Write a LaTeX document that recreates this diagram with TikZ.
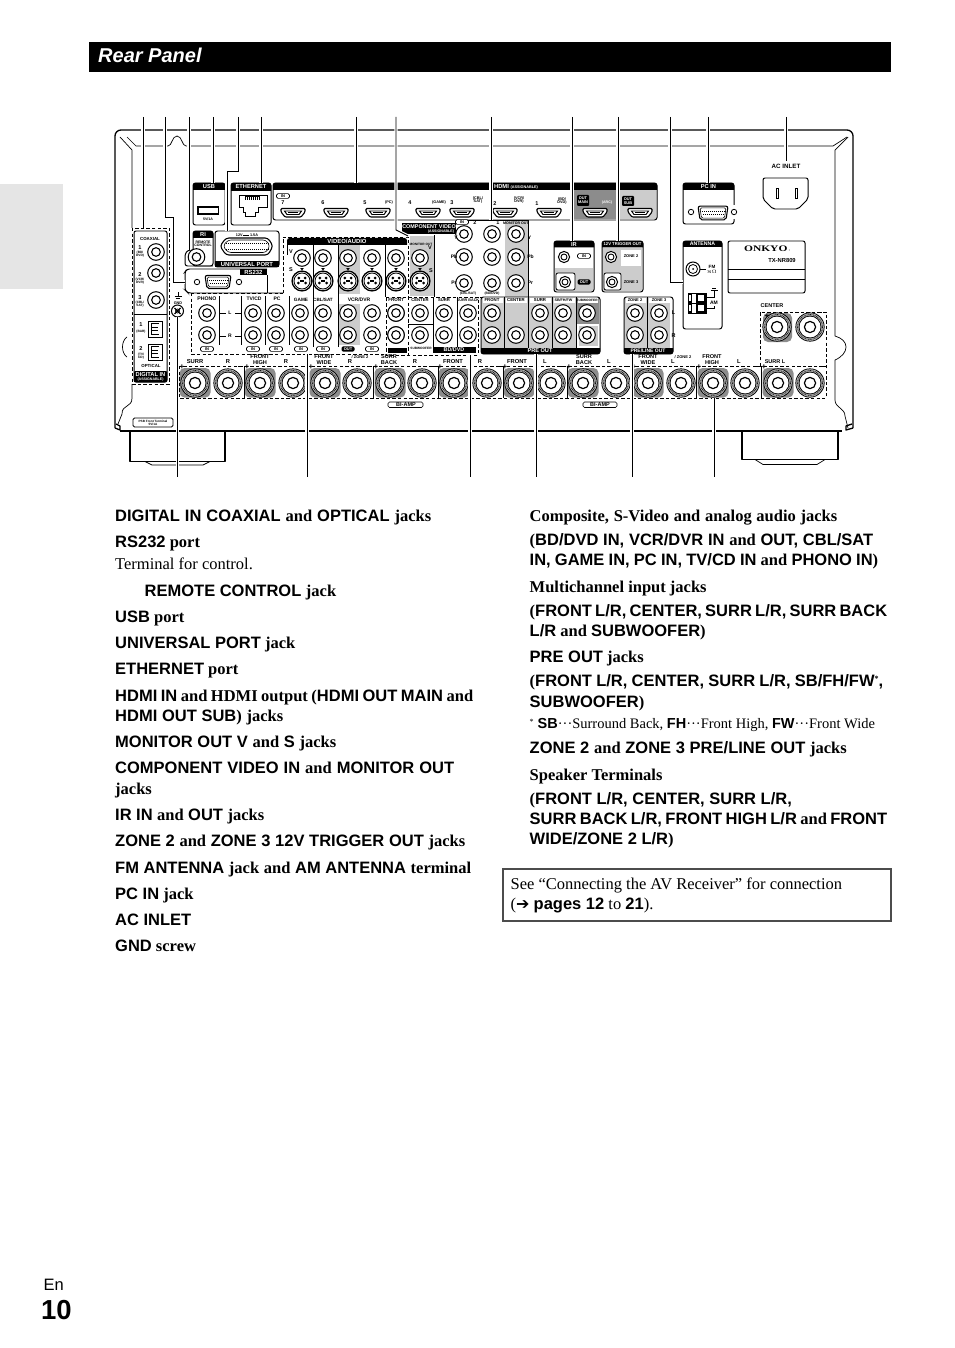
\documentclass[tikz,border=0pt]{standalone}
\usepackage{fontspec}
\setmainfont{Liberation Serif}
\setsansfont{Liberation Sans}
\newfontfamily\symfont{DejaVu Sans}
\newcounter{nc}
\definecolor{pg}{gray}{0.80}
\definecolor{dg}{gray}{0.55}
\tikzset{
  pix/.style={x=1bp,y=-1bp},
  panelline/.style={line width=1pt,rounded corners=2.5},
  chassis/.style={line width=1.3pt,line join=round},
  thin chassis/.style={line width=.7pt,line join=round},
  dashbox/.style={line width=.9pt,dash pattern=on 3.4pt off 2.2pt},
  body/.style={anchor=base west,inner sep=0pt,font=\fontsize{16.5bp}{20bp}\selectfont\bfseries},
  leaderline/.style={line width=.9pt},
  leaderhalo/.style={line width=3.2pt,white},
}
\newcommand\St[1]{{\sffamily\bfseries #1}}
% small panel text: [colour]{size}{x,y}{text}
\newcommand\mt[4][black]{\stepcounter{nc}\node[inner sep=0pt,text=#1,align=center,font=\sffamily\bfseries\fontsize{#2bp}{#2bp}\selectfont] (m\arabic{nc}) at (#3) {#4};}
% body line: {x}{baseline}{text}
\newcommand\bl[3]{\stepcounter{nc}\node[body] (b\arabic{nc}) at (#1,#2) {#3};}
% body line set to a given width: {x}{baseline}{width}{text}
\newcommand\bw[4]{\stepcounter{nc}\node[body] (b\arabic{nc}) at (#1,#2) {\spaceskip=4bp plus 30bp minus 4bp\relax\xspaceskip=\spaceskip\hbox to #3bp{#4}};}
% RCA jack
\newcommand\jack[2]{\draw[line width=1pt,fill=white] (#1,#2) circle (8.3);\draw[line width=1.1pt] (#1,#2) circle (4.3);}
% S-video jack
\newcommand\svid[2]{\draw[line width=1.3pt,fill=white] (#1,#2) circle (9.9);\draw[line width=.8pt] (#1,#2) circle (8);
  \fill[black] (#1-3.2,#2-3) circle (1.5) (#1+3.2,#2-3) circle (1.5) (#1-3.6,#2+2) circle (1.5) (#1+3.6,#2+2) circle (1.5);
  \fill[black] (#1-2,#2-1.2) rectangle (#1+2,#2+1.2);
  \fill[black] (#1-1.8,#2-13) -- (#1+1.8,#2-13) -- (#1,#2-10.5) -- cycle;}
% speaker terminal
\newcommand\spk[2]{\fill[black] (#1,#2) circle (14.6);\fill[gray!60] (#1,#2) circle (13.8);
  \draw[line width=.7pt,dash pattern=on .8pt off .8pt] (#1,#2) circle (12.6);
  \fill[black] (#1,#2) circle (11.4);\fill[white] (#1,#2) circle (10.5);\draw[line width=1.2pt] (#1,#2) circle (5.6);}
% panel with black header
\newcommand\panel[6]{\fill[white,rounded corners=2.5] (#1,#2) rectangle (#3,#4);
  \fill[black] (#1,#2+#5) [rounded corners=2.5] -- (#1,#2) -- (#3,#2) [sharp corners] -- (#3,#2+#5) -- cycle;
  \draw[panelline] (#1,#2) rectangle (#3,#4);
  \mt[white]{5.7}{{(#1+#3)/2},{#2+#5/2}}{#6}}
% HDMI socket
\newcommand\hdmi[2]{\draw[line width=1.1pt,fill=white,rounded corners=1] (#1-12,#2-3.5) -- (#1+12,#2-3.5) -- (#1+12,#2) -- (#1+8,#2+5) -- (#1-8,#2+5) -- (#1-12,#2) -- cycle;
  \draw[line width=1pt] (#1-8.5,#2-1) -- (#1+8.5,#2-1) -- (#1+6,#2+2.5) -- (#1-6,#2+2.5) -- cycle;
  \fill (#1-5,#2) rectangle (#1+5,#2+.8);}
% D-sub
\newcommand\dsub[4]{\draw[line width=1.1pt,rounded corners=2] (#1-#3,#2-#4) -- (#1+#3,#2-#4) -- (#1+#3-2,#2+#4) -- (#1-#3+2,#2+#4) -- cycle;
  \draw[line width=.6pt,rounded corners=1.5] (#1-#3+2,#2-#4+1.6) -- (#1+#3-2,#2-#4+1.6) -- (#1+#3-3.5,#2+#4-1.6) -- (#1-#3+3.5,#2+#4-1.6) -- cycle;
  \draw[line width=1pt,dash pattern=on .9pt off 1.1pt] (#1-#3+4,#2-1.6) -- (#1+#3-4,#2-1.6) (#1-#3+5,#2+1.6) -- (#1+#3-5,#2+1.6);}
% pill label
\newcommand\pill[3]{\draw[line width=.6pt,rounded corners=1.5,fill=white] (#1-6.5,#2-2.4) rectangle (#1+6.5,#2+2.4);\mt{4}{#1,#2}{#3}}
\newcommand\dpill[3]{\fill[black,rounded corners=1.5] (#1-6.5,#2-2.6) rectangle (#1+6.5,#2+2.6);\mt[white]{4}{#1,#2}{#3}}
% leader lines
\newcommand\lead[1]{\draw[leaderhalo] #1;\draw[leaderline] #1;}
\begin{document}
\begin{tikzpicture}[pix]
\useasboundingbox (0,0) rectangle (954,1348);
\fill[white] (0,0) rectangle (954,1348);
% page furniture
\fill[gray!20] (0,184) rectangle (63,289);
\fill[black] (89,42) rectangle (891,72);
\node[anchor=base west,inner sep=0pt,text=white,font=\sffamily\bfseries\itshape\fontsize{20bp}{20bp}\selectfont] (title) at (98,62.5) {Rear Panel};

% ---------- chassis
\draw[chassis,rounded corners=6] (115,428) -- (115,130) -- (853,130) -- (853,428);
\draw[chassis] (115,428) -- (120,430) -- (120,426) -- (116,424);
\draw[chassis] (853,428) -- (846,430) -- (846,426) -- (852,424);
\draw[chassis] (120,431) -- (842,431);
\draw[thin chassis] (120,137) -- (132,150) -- (132,228);
\draw[thin chassis] (127,137) -- (136,146) -- (168,146) .. controls (172,146) and (172,136) .. (177,136) .. controls (182,136) and (182,146) .. (186,146) -- (833,146) -- (847,137);
\draw[thin chassis] (848,137) -- (835,150) -- (835,336) .. controls (842,338) and (846,342) .. (846,347) .. controls (846,352) and (842,357) .. (835,360) -- (835,400) .. controls (835,408) and (845,408) .. (845,416) -- (848,428);
\draw[thin chassis] (132,384) -- (132,398) .. controls (132,408) and (122,404) .. (122,414) -- (118,424);
\draw[thin chassis] (127,337) .. controls (121,341) and (121,353) .. (127,357);
% feet
\draw[chassis] (130,431) -- (130,461.5) -- (225,461.5) -- (225,431);
\draw[thin chassis] (145,461.5) -- (152,465) -- (203,465) -- (210,461.5);
\draw[chassis] (742,431) -- (742,459.5) -- (838,459.5) -- (838,431);
\draw[thin chassis] (755,459.5) -- (763,464.5) -- (817,464.5) -- (825,459.5);

% ---------- HDMI panel
\fill[white,rounded corners=2.5] (273,183) rectangle (657,220);
\fill[dg] (573,190) rectangle (617,219);
\fill[pg] (618,190) rectangle (656,219);
\fill[black] (273,190) [rounded corners=2.5] -- (273,183) -- (657,183) [sharp corners] -- (657,190) -- cycle;
\draw[panelline] (273,183) rectangle (657,220);
\mt[white]{5.8}{516,186.5}{HDMI {\fontsize{3.8bp}{4bp}\selectfont (ASSIGNABLE)}}
\foreach \x in {293,336,378,428,462,505,549,595,640}{\hdmi{\x}{212}}
\pill{283}{196}{IN}
\mt{5.5}{283,203}{7}\mt{5.5}{323,203}{6}\mt{5.5}{365,203}{5}\mt{3.8}{389,203}{(PC)}
\mt{5.5}{410,203}{4}\mt{3.8}{439,203}{(GAME)}\mt{5.5}{452,203}{3}\mt{3.8}{478,200}{(CBL/\\SAT)}
\mt{5.5}{495,204}{2}\mt{3.8}{519,200}{(VCR/\\DVR)}\mt{5.5}{537,204}{1}\mt{3.8}{562,201}{(BD/\\DVD)}
\fill[black,rounded corners=1] (577,195) rectangle (589,206);\mt[white]{3.9}{583,200.5}{OUT\\MAIN}
\mt[white]{3.6}{607,203}{(ARC)}
\fill[black,rounded corners=1] (622,196) rectangle (634,206);\mt[white]{3.9}{628,201}{OUT\\SUB}

% ---------- USB / Ethernet
\panel{193}{183}{225}{225}{7}{USB}
\fill[black] (197,206) rectangle (219,215);\fill[white] (198.5,208.5) rectangle (217.5,213.5);
\mt{3.6}{208,219.5}{5V/1A}
\panel{231}{183}{271}{225}{8}{ETHERNET}
\draw[line width=1pt] (239,195) -- (267,195) -- (267,207) -- (258,207) -- (258,212) -- (255,212) -- (255,216) -- (245,216) -- (245,212) -- (243,212) -- (243,207) -- (239,207) -- cycle;
\fill[black] (245,196.5) rectangle (260,200);
\foreach \x in {246,248,...,258}{\fill[white] (\x,197) rectangle (\x+.8,200);}
% ---------- RI
\fill[white] (185,250) rectangle (213,266);
\panel{193}{231}{213}{266}{7}{RI}
\draw[panelline] (193,250) -- (188,250) -- (185,254) -- (185,266) -- (213,266);
\mt{3.5}{203,244}{REMOTE\\CONTROL}
\jack{196.5}{257}
% ---------- Universal port
\fill[white,rounded corners=2.5] (215,231) rectangle (279,267);
\draw[panelline] (215,231) rectangle (279,267);
\fill[black] (215,261) rectangle (279,267);
\mt[white]{5.9}{247,264}{UNIVERSAL PORT}
\mt{3.8}{247,235}{12V\,{\rule[.6bp]{6bp}{.7bp}}\,1.5A}
\draw[line width=1.1pt,rounded corners=3] (220,246) -- (226,238) -- (268,238) -- (273,246) -- (268,255) -- (226,255) -- cycle;
\draw[line width=1pt,dash pattern=on .9pt off 1.1pt] (226,243) -- (268,243) (226,249) -- (268,249);
\draw[line width=.6pt,rounded corners=3] (223,246) -- (228,240) -- (266,240) -- (270,246) -- (266,252.5) -- (228,252.5) -- cycle;
% ---------- RS232
\draw[panelline] (267,269) -- (187,269) -- (185,272) -- (185,290) -- (188,293) -- (283,293);
\draw[line width=1pt] (267,275) -- (267,293);
\fill[black] (240,269) rectangle (267,275);
\mt[white]{5.9}{253.5,272}{RS232}
\dsub{218}{282}{13}{6.5}
\draw[line width=.8pt,fill=white] (197,282) circle (2.7) (239,282) circle (2.7);

% ---------- Digital in
\draw[dashbox] (132,228) rectangle (169,384);
\draw[line width=1pt,rounded corners=2] (134,231) rectangle (167,382);
\draw[line width=1pt] (134,314) -- (167,314);
\fill[black,rounded corners=1] (134,371) rectangle (167,382);
\mt{4.4}{150,239}{COAXIAL}
\mt[white]{5.7}{150.5,374.5}{DIGITAL IN}\mt[white]{3.6}{150.5,379.3}{(ASSIGNABLE)}
\jack{156}{252}\jack{156}{273}\jack{156}{300}
\mt{5.6}{140,248}{1}\mt{3.2}{140,254.5}{(BD/\\DVD)}
\mt{5.6}{140,275}{2}\mt{3.2}{140,281.5}{(VCR/\\DVR)}
\mt{5.6}{140,298}{3}\mt{3.2}{140,304.5}{(CBL/\\SAT)}
\mt{5.6}{141,325}{1}\mt{3.2}{141,332}{(BAR)}
\mt{5.6}{141,349}{2}\mt{3.2}{141,356}{(TV/\\CD)}
\mt{4.4}{151,366}{OPTICAL}
\foreach \y in {321,344}{
  \draw[line width=1pt] (148,\y) rectangle (162,\y+16);
  \draw[line width=.8pt] (159,\y+2.5) -- (151,\y+2.5) -- (151,\y+13) -- (159,\y+13) (151,\y+6) -- (158,\y+6) (151,\y+9.5) -- (158,\y+9.5);}
% ---------- GND
\draw[line width=.6pt] (178,292) -- (178,296.5) (174.5,296.5) -- (181.5,296.5) (175.7,297.8) -- (180.3,297.8);
\mt{3.8}{178,303}{GND}
\draw[line width=1pt] (177.5,311) circle (6);
\draw[line width=1.2pt] (174.5,308) -- (180.5,314) (174.5,314) -- (180.5,308);
\draw[line width=.7pt] (177.5,311) circle (2);

% ---------- Component video / monitor out
\fill[pg] (505,220) rectangle (528,297);
\draw[line width=1pt] (456,220) -- (528,220) -- (528,297) -- (480,297);
\fill[black] (402,223) rectangle (456,234);
\mt[white]{5.4}{429,226.5}{COMPONENT VIDEO}\mt[white]{3.6}{441,231.5}{(ASSIGNABLE)}
\foreach \x in {464,492,516}{\foreach \y in {234,257,283}{\jack{\x}{\y}}}
\pill{462}{222}{IN}\mt{5.5}{475,223}{2}\mt{5.5}{498,223}{1}
\mt{3.6}{516,223}{MONITOR OUT}
\mt{5}{456,238}{Y}\mt{5}{454,257}{Pb}\mt{5}{454,283}{Pr}
\mt{5}{529.5,238}{Y}\mt{5}{530.5,257}{Pb}\mt{5}{530.5,283}{Pr}
\mt{3.3}{468,294}{(CBL/SAT)}\mt{3.3}{492,294}{(BD/DVD)}
% monitor out box
\fill[pg] (410,236) rectangle (434,296);
\draw[line width=1pt] (434,235) -- (434,297);
\mt{3.2}{421,244}{MONITOR OUT}
\jack{420}{258}\svid{420}{281}
\mt{5.5}{430,248}{V}\mt{5.5}{431,271}{S}

% ---------- Video / audio
\fill[pg] (338,245) rectangle (360,345);
\fill[white] (338,294) rectangle (360,304);
\fill[black] (287,245) [rounded corners=2.5] -- (287,238) -- (407,238) [sharp corners] -- (407,245) -- cycle;
\mt[white]{5.9}{347,241.5}{VIDEO/AUDIO}
\draw[line width=1pt] (287,245) -- (287,255) (313,245) -- (313,347) (338,245) -- (338,347) (385,245) -- (385,297);
\foreach \x in {302,323,348,372,396}{\jack{\x}{258}\svid{\x}{281}}
\mt{5.5}{291,252}{V}\mt{5.5}{291,270}{S}
\foreach \x in {207,253,276,300,323,348,372,396}{\jack{\x}{313}\jack{\x}{335}}
\mt{5.2}{207,299}{PHONO}\mt{5}{254,299}{TV/CD}\mt{5}{277,299}{PC}\mt{4.7}{301,300}{GAME}\mt{4.6}{323,300}{CBL/SAT}\mt{5}{359,300}{VCR/DVR}
\mt{4.5}{396,300}{FRONT}
\draw[line width=.8pt] (219.5,313) -- (225.5,313) (235,313) -- (241,313) (219.5,336) -- (225.5,336) (235,336) -- (241,336);
\mt{5}{230,313}{L}\mt{5}{230,336}{R}
\draw[line width=1pt] (219,296) -- (219,345) (241,296) -- (241,345) (265,296) -- (265,345) (289,296) -- (289,345);
\foreach \x in {207,253,276,301,323,372}{\pill{\x}{349}{IN}}
\dpill{348}{349}{OUT}
\draw[dashbox] (283,293) -- (283,237) -- (408,237) -- (408,297);
\draw[dashbox] (191,293) -- (283,293);
\draw[dashbox] (191,293) -- (191,354) -- (386,354);
% ---------- multichannel
\fill[black] (388,348) rectangle (407,353);
\fill[black] (433,347) rectangle (476,353);
\mt[white]{5.4}{454,350}{BD/DVD}
\draw[line width=1pt] (433,297) -- (433,347) (457,297) -- (457,347) (408,324) -- (433,324);
\foreach \x in {396,444,468}{\jack{\x}{313}\jack{\x}{335}}
\jack{420}{313}\jack{420}{335}
\mt{4.2}{420,300}{CENTER}\mt{4.2}{444,300}{SURR}\mt{3.7}{468,300}{SURR BACK}
\mt{3.2}{421,348}{SUBWOOFER}
\draw[dashbox] (386,297) -- (478,297) -- (478,355) -- (386,355) -- cycle;
\draw[dashbox] (408,297) -- (408,355);
% ---------- pre out
\fill[white,rounded corners=2.5] (481,297) rectangle (600,354);
\fill[pg] (482,298) rectangle (599,348);
\fill[dg] (577,298) rectangle (599,324);
\fill[white] (577,324) rectangle (599,348);\fill[pg] (578.5,326) rectangle (597.5,346);
\fill[black] (481,348) [rounded corners=2.5] -- (481,354) -- (600,354) [sharp corners] -- (600,348) -- cycle;
\draw[panelline] (481,297) rectangle (600,354);
\draw[line width=1pt] (504.5,297) -- (504.5,348) (528,297) -- (528,348) (552,297) -- (552,348) (576,297) -- (576,348);
\foreach \x in {492,540,563,587}{\jack{\x}{313}}
\foreach \x in {492,516,540,563,587}{\jack{\x}{335}}
\fill[white] (483,298) rectangle (503,303);\fill[white] (506,298) rectangle (527,303);\fill[white] (529.5,298) rectangle (551,303);\fill[white] (553.5,298) rectangle (575,303);\fill[white] (578,298) rectangle (598,303);
\mt{4.3}{492,300.5}{FRONT}\mt{4.3}{516,300.5}{CENTER}\mt{4.3}{540,300.5}{SURR}\mt{3.7}{563.5,300.5}{SB/FH/FW}\mt{3.2}{587,300.5}{SUBWOOFER}
\mt[white]{5.6}{540,351}{PRE OUT}
% ---------- zone pre out
\fill[white,rounded corners=2.5] (624,297) rectangle (673,354);
\fill[pg] (625,298) rectangle (670,348);
\fill[black] (624,348) [rounded corners=2.5] -- (624,354) -- (673,354) [sharp corners] -- (673,348) -- cycle;
\draw[panelline] (624,297) rectangle (673,354);
\draw[line width=1pt] (647,297) -- (647,348);
\foreach \x in {635,659}{\jack{\x}{313}\jack{\x}{335}}
\fill[white] (626,298) rectangle (646,303);\fill[white] (648.5,298) rectangle (670,303);
\mt{4}{635,300.5}{ZONE 2}\mt{4}{659,300.5}{ZONE 3}
\mt[white]{5}{648,351}{PRE/LINE OUT}
\mt{5.5}{673.5,313}{L}\mt{5.5}{673.5,336}{R}
% ---------- IR & trigger
\panel{554}{241}{594}{292}{6.5}{IR}
\fill[pg] (555,268) rectangle (593,291);
\fill[white,rounded corners=2] (556,273) rectangle (575,290);
\draw[line width=.8pt,rounded corners=2] (556,273) rectangle (575,290);
\draw[line width=1pt,fill=white] (564,257) circle (5.6);\draw[line width=.9pt] (564,257) circle (3);
\draw[line width=1pt,fill=white] (565,282) circle (5.6);\draw[line width=.9pt] (565,282) circle (3);
\pill{584}{256}{IN}\dpill{584}{282}{OUT}
\panel{602}{241}{643}{292}{6.5}{{\fontsize{4.2bp}{4.2bp}\selectfont 12V TRIGGER OUT}}
\fill[pg] (603,248) rectangle (642,291);
\fill[white] (621,250) rectangle (641,266);
\fill[white,rounded corners=2] (604,273) rectangle (621,290);
\draw[line width=.8pt,rounded corners=2] (604,273) rectangle (621,290);
\draw[line width=1pt,fill=white] (611,257) circle (5.6);\draw[line width=.9pt] (611,257) circle (3);
\draw[line width=1pt,fill=white] (612,282) circle (5.6);\draw[line width=.9pt] (612,282) circle (3);
\mt{4}{631,256}{ZONE 2}\mt{4}{631,282}{ZONE 3}
% ---------- PC in / AC / antenna / plate
\panel{683}{183}{734}{224}{7}{PC IN}
\fill[white] (690,205) rectangle (737,219);
\dsub{713}{213}{15}{6.8}
\draw[line width=.8pt,fill=white] (691,212) circle (2.7) (734,212) circle (2.7);
\mt{6.2}{786,166}{AC INLET}
\draw[line width=1pt,rounded corners=2] (763,178) -- (808,178) -- (808,199) -- (798,209) -- (773,209) -- (763,199) -- cycle;
\draw[line width=.9pt] (776,188.5) rectangle (778,198) (795,188.5) rectangle (797,198);
\panel{683}{241}{722}{329}{6}{{\fontsize{5.2bp}{5.2bp}\selectfont ANTENNA}}
\draw[line width=1pt] (693,269) circle (7);\draw[line width=.8pt] (693,269) circle (4.5);\fill (693,269) circle (1);
\draw[line width=.7pt] (700,269) -- (706,269);
\mt{4.6}{712,267}{FM}\mt{3.4}{712,271.7}{75\,$\Omega$}
\foreach \y in {293,303}{\draw[line width=1pt,fill=white] (688,\y) rectangle (706,\y+10);
  \fill[black] (688,\y) rectangle (692,\y+10);\fill[white] (689,\y+2) rectangle (691,\y+8);
  \fill[black] (696,\y) rectangle (706,\y+10);\fill[white] (698,\y+2) rectangle (704,\y+8);}
\draw[line width=.6pt] (706,297) -- (714,297) -- (714,290) (710.5,290) -- (717.5,290) (712,288.5) -- (716,288.5);
\draw[line width=.6pt] (706,308) -- (714,308) -- (714,306);
\mt{5}{714,303}{AM}
\draw[line width=1pt,rounded corners=2] (728,241) rectangle (805,293);
\draw[line width=.6pt] (728,269) -- (805,269) (728,279) -- (805,279);
\stepcounter{nc}\node[inner sep=0pt,font=\bfseries\fontsize{8.5bp}{9bp}\selectfont] (onkyo) at (767,248.5) {\scalebox{1.35}[1]{ONKYO}\,{\fontsize{3bp}{3bp}\selectfont\textbullet}};
\mt{5.8}{782,261}{TX-NR809}

% ---------- speaker terminals
\foreach \x in {195,260,325,390,454,519,583,648,713,778}{\fill[dg,rounded corners=5] (\x-15.5,368) rectangle (\x+15.5,397.5);}
\fill[dg,rounded corners=5] (763,313) rectangle (792,342);
\foreach \x in {195,228,260,293,325,357,390,422,454,487,519,551,583,616,648,681,713,745,778,810}{\spk{\x}{383}}
\spk{777}{327}\spk{810}{327}
\foreach \x in {244,308,373,438,503,567,632,696,761}{\draw[line width=.9pt] (\x,366) -- (\x,398);}
\draw[dashbox] (179,366) rectangle (826,398);
\draw[dashbox] (760,366) -- (760,312) -- (826,312) -- (826,366);
\foreach \x in {182,247,311,376,440,505,569,634,699,764}{\mt{8}{\x,367.5}{+}}
\foreach \x in {240,303,369,434,499,562,627,692,757,823}{\fill (\x-2.5,366) rectangle (\x+2.5,366.9);}
\mt{8}{767,316}{+}\fill (817,312) rectangle (822,312.9);
\mt{5.8}{195,361.5}{SURR}\mt{5.8}{228,361.5}{R}\mt{5.6}{260,359.3}{FRONT\\HIGH}\mt{5.8}{286,361.5}{R}
\mt{5.6}{324,359.3}{FRONT\\WIDE}\mt{4}{360,357}{/ ZONE 2}\mt{5.8}{350,361.5}{R}\mt{5.6}{389,359.3}{SURR\\BACK}
\mt{5.8}{415,361.5}{R}\mt{5.8}{453,361.5}{FRONT}\mt{5.8}{480,361.5}{R}\mt{5.8}{517,361.5}{FRONT}
\mt{5.8}{545,361.5}{L}\mt{5.6}{584,359.3}{SURR\\BACK}\mt{5.8}{609,361.5}{L}\mt{5.6}{648,359.3}{FRONT\\WIDE}
\mt{4}{683,357}{/ ZONE 2}\mt{5.8}{673,361.5}{L}\mt{5.6}{712,359.3}{FRONT\\HIGH}\mt{5.8}{739,361.5}{L}
\mt{5.5}{775,361.5}{SURR L}\mt{5.5}{772,306}{CENTER}
\draw[line width=.6pt,rounded corners=1.5] (388,402) rectangle (423,407.5);\mt{5.5}{406,404.8}{BI-AMP}
\draw[line width=.6pt,rounded corners=1.5] (583,402) rectangle (617,407.5);\mt{5.5}{600,404.8}{BI-AMP}
\draw[line width=.8pt,rounded corners=1.5] (133,418) rectangle (173,427);
\mt{3.1}{153,422.5}{PSB Front Terminal\\5V/1A}

% ---------- leaders
\lead{(143,117) -- (143,228)}
\lead{(165,117) -- (165,217) -- (173,217) -- (173,282) -- (185,282)}
\lead{(189,117) -- (189,250)}
\lead{(213,117) -- (213,183)}
\lead{(238,117) -- (238,171) -- (227,171) -- (227,231)}
\lead{(261,117) -- (261,183)}
\lead{(356,117) -- (356,183)}
\lead{(396,117) -- (396,230) -- (408,236)}
\lead{(491,117) -- (491,220)}
\lead{(572,117) -- (572,241)}
\lead{(618,117) -- (618,241)}
\lead{(670,117) -- (670,282) -- (683,282)}
\lead{(708,117) -- (708,183)}
\lead{(786,117) -- (786,161)}
\lead{(177.5,317) -- (177.5,477)}
\lead{(307,354) -- (307,477)}
\lead{(470,355) -- (470,477)}
\lead{(536,354) -- (536,477)}
\lead{(632,354) -- (632,477)}
\lead{(714,398) -- (714,477)}

% ---------- left text column
\bw{115}{521.5}{316}{\St{DIGITAL IN COAXIAL} and \St{OPTICAL} jacks}
\bl{115}{547}{\St{RS232} port}
\stepcounter{nc}\node[body,font=\fontsize{16.5bp}{20bp}\selectfont] (term) at (115,569) {Terminal for control.};
\bw{144.5}{596}{191.5}{\St{REMOTE CONTROL} jack}
\bl{115}{622}{\St{USB} port}
\bl{115}{648}{\St{UNIVERSAL PORT} jack}
\bl{115}{674}{\St{ETHERNET} port}
\bw{115}{701}{358}{\St{HDMI IN} and HDMI output (\St{HDMI OUT MAIN} and}
\bw{115}{721}{168}{\St{HDMI OUT SUB}) jacks}
\bw{115}{747}{221}{\St{MONITOR OUT V} and \St{S} jacks}
\bw{115}{773}{339}{\St{COMPONENT VIDEO IN} and \St{MONITOR OUT}}
\bl{115}{794}{jacks}
\bw{115}{820}{149}{\St{IR IN} and \St{OUT} jacks}
\bw{115}{846}{350}{\St{ZONE 2} and \St{ZONE 3 12V TRIGGER OUT} jacks}
\bw{115}{873}{356}{\St{FM ANTENNA} jack and \St{AM ANTENNA} terminal}
\bl{115}{899}{\St{PC IN} jack}
\bl{115}{925}{\St{AC INLET}}
\bl{115}{951}{\St{GND} screw}
% ---------- right text column
\bw{529.5}{521}{307.5}{Composite, S-Video and analog audio jacks}
\bw{529.5}{545}{343.5}{(\St{BD/DVD IN, VCR/DVR IN} and \St{OUT, CBL/SAT}}
\bw{529.5}{565}{348.5}{\St{IN, GAME IN, PC IN, TV/CD IN} and \St{PHONO IN})}
\bl{529.5}{592}{Multichannel input jacks}
\bw{529.5}{616}{357.5}{(\St{FRONT L/R, CENTER, SURR L/R, SURR BACK}}
\bl{529.5}{636}{\St{L/R} and \St{SUBWOOFER})}
\bl{529.5}{662}{\St{PRE OUT} jacks}
\bw{529.5}{686}{353.5}{(\St{FRONT L/R, CENTER, SURR L/R, SB/FH/FW}\raisebox{5bp}{\fontsize{8bp}{8bp}\selectfont *}\St{,}}
\bl{529.5}{707}{\St{SUBWOOFER})}
\stepcounter{nc}\node[body,font=\fontsize{14.5bp}{16bp}\selectfont] (note) at (529.5,728) {\raisebox{4bp}{\fontsize{8bp}{8bp}\selectfont *}\hspace{4bp}\St{SB}···Surround Back, \St{FH}···Front High, \St{FW}···Front Wide};
\bw{529.5}{753}{317}{\St{ZONE 2} and \St{ZONE 3 PRE/LINE OUT} jacks}
\bl{529.5}{780}{Speaker Terminals}
\bl{529.5}{804}{(\St{FRONT L/R, CENTER, SURR L/R,}}
\bw{529.5}{824}{357.5}{\St{SURR BACK L/R, FRONT HIGH L/R} and \St{FRONT}}
\bl{529.5}{844}{\St{WIDE/ZONE 2 L/R})}
% ---------- note box
\draw[line width=2pt,gray!60!black] (503,869) rectangle (890.5,920.5);
\stepcounter{nc}\node[body,font=\fontsize{16.5bp}{20bp}\selectfont] (box1) at (510.5,889) {See “Connecting the AV Receiver” for connection};
\stepcounter{nc}\node[body,font=\fontsize{16.5bp}{20bp}\selectfont] (box2) at (510.5,909) {({\symfont\fontsize{16bp}{16bp}\selectfont ➔} \St{pages 12} to \St{21}).};
% ---------- page number
\node[anchor=base west,inner sep=0pt,font=\sffamily\fontsize{16.5bp}{18bp}\selectfont] (en) at (43.5,1290) {En};
\node[anchor=base west,inner sep=0pt,font=\sffamily\bfseries\fontsize{27.5bp}{28bp}\selectfont] (pg) at (41,1319) {10};
\end{tikzpicture}
\end{document}
